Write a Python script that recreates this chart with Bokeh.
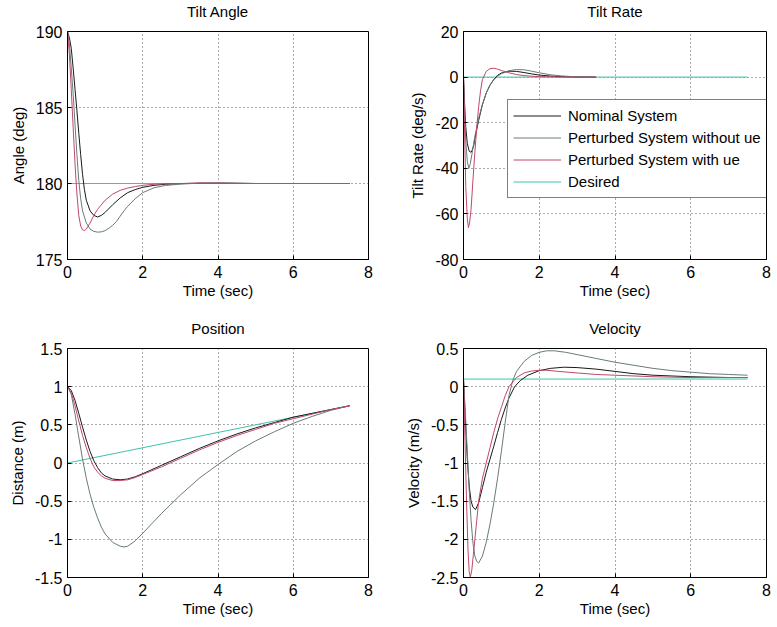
from bokeh.plotting import figure
from bokeh.layouts import gridplot
from bokeh.models import FixedTicker, Legend, LegendItem, Range1d, Title
from bokeh.embed import file_html
from bokeh.resources import INLINE

# ---------------- data ----------------
# Tilt angle (deg)
ang_nom_t = [0, 0.05, 0.1, 0.15, 0.2, 0.25, 0.3, 0.35, 0.4, 0.45, 0.5, 0.6, 0.7, 0.8, 0.9, 1.0, 1.2, 1.4, 1.6, 1.8, 2.0, 2.3, 2.6, 3.0, 3.5, 4.0, 5.0, 6.0, 7.5]
ang_nom_y = [190, 189.6, 188.9, 187.6, 186.2, 184.8, 183.3, 181.9, 180.6, 179.6, 178.9, 178.2, 177.9, 177.8, 177.9, 178.1, 178.6, 179.05, 179.4, 179.6, 179.75, 179.88, 179.95, 179.99, 180.02, 180.03, 180.0, 180.0, 180.0]
ang_wo_t = [0, 0.05, 0.1, 0.15, 0.2, 0.25, 0.3, 0.35, 0.4, 0.5, 0.6, 0.7, 0.8, 0.9, 1.0, 1.1, 1.2, 1.3, 1.4, 1.5, 1.6, 1.8, 2.0, 2.3, 2.6, 3.0, 3.5, 4.0, 5.0, 6.0, 7.5]
ang_wo_y = [190, 189.2, 187.6, 185.9, 183.9, 181.9, 180.2, 179.0, 178.2, 177.4, 177.0, 176.85, 176.8, 176.82, 176.9, 177.05, 177.25, 177.5, 177.85, 178.2, 178.5, 179.0, 179.4, 179.72, 179.87, 179.96, 180.02, 180.03, 180.0, 180.0, 180.0]
ang_wi_t = [0, 0.05, 0.1, 0.15, 0.2, 0.25, 0.3, 0.35, 0.4, 0.45, 0.5, 0.6, 0.7, 0.8, 1.0, 1.2, 1.4, 1.6, 1.8, 2.0, 2.3, 2.6, 3.0, 3.5, 4.0, 5.0, 6.0, 7.5]
ang_wi_y = [190, 188.5, 186.2, 183.7, 181.3, 179.3, 177.9, 177.2, 176.95, 176.9, 177.0, 177.4, 177.9, 178.3, 178.9, 179.3, 179.55, 179.7, 179.8, 179.88, 179.95, 179.98, 180.0, 180.03, 180.02, 180.0, 180.0, 180.0]
ang_des_t = [0, 7.5]
ang_des_y = [180, 180]

# Tilt rate (deg/s)
rate_nom_t = [0, 0.03, 0.06, 0.1, 0.15, 0.2, 0.23, 0.27, 0.3, 0.35, 0.4, 0.5, 0.6, 0.7, 0.8, 0.9, 1.0, 1.2, 1.4, 1.6, 1.8, 2.0, 2.3, 2.6, 3.0, 3.5]
rate_nom_y = [0, -12, -22, -29, -32.5, -33, -32, -30, -27, -23, -19, -12, -7, -3.5, -1, 0.8, 1.8, 2.6, 2.5, 2.0, 1.4, 0.9, 0.45, 0.2, 0.05, 0]
rate_wo_t = [0, 0.03, 0.06, 0.1, 0.14, 0.18, 0.22, 0.27, 0.3, 0.35, 0.4, 0.5, 0.6, 0.7, 0.8, 0.9, 1.0, 1.2, 1.4, 1.6, 1.8, 2.0, 2.3, 2.6, 3.0, 3.5]
rate_wo_y = [0, -15, -28, -37, -40, -38, -34, -29, -26, -22, -18, -12, -7, -3.5, -1.2, 0.4, 1.5, 2.8, 3.3, 3.2, 2.6, 1.9, 1.0, 0.5, 0.1, 0]
rate_wi_t = [0, 0.03, 0.06, 0.1, 0.13, 0.16, 0.2, 0.25, 0.3, 0.35, 0.4, 0.45, 0.5, 0.6, 0.7, 0.8, 0.9, 1.0, 1.2, 1.4, 1.6, 1.8, 2.0, 2.3, 2.6, 3.0, 3.5]
rate_wi_y = [0, -25, -48, -62, -66, -64, -58, -45, -33, -22, -13, -6, -1, 2.5, 3.7, 3.9, 3.5, 2.9, 1.9, 1.1, 0.65, 0.38, 0.22, 0.1, 0.05, 0.0, 0.0]
rate_des_t = [0, 7.5]
rate_des_y = [0, 0]

# Position (m)
pos_nom_t = [0, 0.1, 0.2, 0.3, 0.4, 0.5, 0.6, 0.7, 0.8, 0.9, 1.0, 1.2, 1.4, 1.6, 1.8, 2.0, 2.5, 3.0, 3.5, 4.0, 4.5, 5.0, 5.5, 6.0, 6.5, 7.0, 7.5]
pos_nom_y = [1.0, 0.95, 0.82, 0.65, 0.47, 0.3, 0.15, 0.03, -0.06, -0.13, -0.17, -0.21, -0.22, -0.21, -0.18, -0.14, -0.03, 0.08, 0.19, 0.29, 0.38, 0.46, 0.53, 0.6, 0.65, 0.7, 0.75]
pos_wo_t = [0, 0.1, 0.2, 0.3, 0.4, 0.5, 0.6, 0.7, 0.8, 0.9, 1.0, 1.2, 1.4, 1.5, 1.6, 1.8, 2.0, 2.5, 3.0, 3.5, 4.0, 4.5, 5.0, 5.5, 6.0, 6.5, 7.0, 7.5]
pos_wo_y = [1.0, 0.9, 0.64, 0.34, 0.05, -0.2, -0.41, -0.58, -0.72, -0.84, -0.93, -1.04, -1.09, -1.1, -1.09, -1.02, -0.92, -0.66, -0.42, -0.2, -0.02, 0.15, 0.29, 0.41, 0.52, 0.61, 0.69, 0.75]
pos_wi_t = [0, 0.1, 0.2, 0.3, 0.4, 0.5, 0.6, 0.7, 0.8, 0.9, 1.0, 1.2, 1.4, 1.6, 1.8, 2.0, 2.5, 3.0, 3.5, 4.0, 4.5, 5.0, 5.5, 6.0, 6.5, 7.0, 7.5]
pos_wi_y = [1.0, 0.92, 0.75, 0.55, 0.36, 0.2, 0.06, -0.05, -0.12, -0.17, -0.2, -0.23, -0.23, -0.22, -0.19, -0.15, -0.05, 0.06, 0.17, 0.27, 0.36, 0.44, 0.52, 0.58, 0.64, 0.7, 0.75]
pos_des_t = [0, 7.5]
pos_des_y = [0, 0.75]

# Velocity (m/s)
vel_nom_t = [0, 0.05, 0.1, 0.15, 0.2, 0.25, 0.32, 0.4, 0.5, 0.6, 0.7, 0.8, 0.9, 1.0, 1.1, 1.2, 1.35, 1.5, 1.7, 2.0, 2.3, 2.65, 3.0, 3.5, 4.0, 4.5, 5.0, 6.0, 7.0, 7.5]
vel_nom_y = [0.1, -0.45, -0.95, -1.3, -1.5, -1.58, -1.61, -1.52, -1.32, -1.12, -0.95, -0.78, -0.6, -0.43, -0.28, -0.15, 0.0, 0.08, 0.15, 0.21, 0.24, 0.255, 0.25, 0.23, 0.2, 0.17, 0.15, 0.13, 0.12, 0.12]
vel_wo_t = [0, 0.05, 0.1, 0.15, 0.2, 0.25, 0.3, 0.35, 0.4, 0.5, 0.6, 0.7, 0.8, 0.9, 1.0, 1.1, 1.2, 1.3, 1.4, 1.6, 1.8, 2.0, 2.2, 2.4, 2.7, 3.0, 3.5, 4.0, 4.5, 5.0, 5.5, 6.0, 6.5, 7.0, 7.5]
vel_wo_y = [0.1, -0.35, -0.85, -1.35, -1.75, -2.05, -2.22, -2.29, -2.31, -2.22, -2.04, -1.8, -1.52, -1.2, -0.85, -0.47, -0.12, 0.08, 0.2, 0.33, 0.41, 0.45, 0.47, 0.47, 0.45, 0.42, 0.37, 0.32, 0.28, 0.24, 0.21, 0.19, 0.17, 0.16, 0.15]
vel_wi_t = [0, 0.04, 0.08, 0.12, 0.15, 0.18, 0.22, 0.26, 0.3, 0.35, 0.4, 0.5, 0.6, 0.7, 0.8, 0.9, 1.0, 1.1, 1.2, 1.4, 1.6, 1.8, 2.0, 2.2, 2.5, 3.0, 3.5, 4.0, 5.0, 6.0, 7.0, 7.5]
vel_wi_y = [0.1, -0.7, -1.5, -2.15, -2.42, -2.5, -2.4, -2.2, -2.0, -1.75, -1.5, -1.2, -1.0, -0.8, -0.6, -0.42, -0.27, -0.12, 0.0, 0.12, 0.18, 0.205, 0.215, 0.215, 0.2, 0.18, 0.16, 0.15, 0.13, 0.12, 0.12, 0.12]
vel_des_t = [0, 7.5]
vel_des_y = [0.1, 0.1]

# ticks
x_ticks = [0, 2, 4, 6, 8]
x_tick_labels = ["0", "2", "4", "6", "8"]
ang_ticks = [175, 180, 185, 190]
ang_tick_labels = ["175", "180", "185", "190"]
rate_ticks = [-80, -60, -40, -20, 0, 20]
rate_tick_labels = ["-80", "-60", "-40", "-20", "0", "20"]
pos_ticks = [-1.5, -1, -0.5, 0, 0.5, 1, 1.5]
pos_tick_labels = ["-1.5", "-1", "-0.5", "0", "0.5", "1", "1.5"]
vel_ticks = [-2.5, -2, -1.5, -1, -0.5, 0, 0.5]
vel_tick_labels = ["-2.5", "-2", "-1.5", "-1", "-0.5", "0", "0.5"]

series_names = ["Nominal System", "Perturbed System without ue", "Perturbed System with ue", "Desired"]
colors = ["#1a1a1a", "#6a7a7a", "#c04868", "#3cc4aa"]

FONT = "Liberation Sans"


def make_fig(title, ylabel, yr, yticks, ylabels, width, height, bl, br, bt, bb):
    p = figure(width=width, height=height, x_range=Range1d(0, 8), y_range=Range1d(*yr),
               output_backend="svg", toolbar_location=None,
               min_border_left=bl, min_border_right=br, min_border_top=bt, min_border_bottom=bb)
    # real title (outermost panel)
    p.title.text = title
    p.title.align = "center"
    p.title.text_font = FONT
    p.title.text_font_size = "15px"
    p.title.text_font_style = "normal"
    p.title.text_color = "black"
    p.title.standoff = 0
    # invisible spacer between the title and the frame
    p.add_layout(Title(text=" ", text_font_size="1px", standoff=9), "above")
    p.outline_line_color = "black"
    p.outline_line_width = 1
    p.background_fill_color = "white"
    p.border_fill_color = "white"
    xa = p.xaxis[0]
    ya = p.yaxis[0]
    xa.ticker = FixedTicker(ticks=x_ticks)
    xa.major_label_overrides = {t: s for t, s in zip(x_ticks, x_tick_labels)}
    ya.ticker = FixedTicker(ticks=yticks)
    ya.major_label_overrides = {t: s for t, s in zip(yticks, ylabels)}
    xa.axis_label = "Time (sec)"
    ya.axis_label = ylabel
    for ax in (xa, ya):
        ax.axis_label_text_font = FONT
        ax.axis_label_text_font_size = "15px"
        ax.axis_label_text_font_style = "normal"
        ax.axis_label_text_color = "black"
        ax.major_label_text_font = FONT
        ax.major_label_text_font_size = "16px"
        ax.major_label_text_color = "black"
        ax.major_tick_in = 4
        ax.major_tick_out = 0
        ax.minor_tick_in = 0
        ax.minor_tick_out = 0
        ax.axis_line_color = "black"
        ax.major_tick_line_color = "black"
    xa.major_label_standoff = 6
    xa.axis_label_standoff = 1
    ya.major_label_standoff = 5
    ya.axis_label_standoff = 6
    for g in (p.xgrid[0], p.ygrid[0]):
        g.grid_line_color = "#555555"
        g.grid_line_dash = "1 3"
        g.grid_line_width = 1
    p.xgrid[0].ticker = FixedTicker(ticks=x_ticks)
    p.ygrid[0].ticker = FixedTicker(ticks=yticks)
    return p


def add_lines(p, tlist, ylist):
    # desired drawn first, then the three responses
    order = [3, 0, 1, 2]
    rmap = {}
    for i in order:
        rmap[i] = p.line(tlist[i], ylist[i], line_color=colors[i], line_width=1)
    return [rmap[i] for i in range(4)]


# widths/heights chosen so frames land where the reference axes are
W_L, W_R = 396, 381
H_T, H_B = 316, 311

p1 = make_fig("Tilt Angle", "Angle (deg)", (175, 190), ang_ticks, ang_tick_labels, W_L, H_T, 67, 28, 31, 57)
add_lines(p1, [ang_nom_t, ang_wo_t, ang_wi_t, ang_des_t], [ang_nom_y, ang_wo_y, ang_wi_y, ang_des_y])

p2 = make_fig("Tilt Rate", "Tilt Rate (deg/s)", (-80, 20), rate_ticks, rate_tick_labels, W_R, H_T, 67, 11, 31, 57)
rr = add_lines(p2, [rate_nom_t, rate_wo_t, rate_wi_t, rate_des_t], [rate_nom_y, rate_wo_y, rate_wi_y, rate_des_y])
legend = Legend(items=[LegendItem(label=series_names[i], renderers=[rr[i]]) for i in range(4)],
                location=(44, 61))
legend.label_text_font = FONT
legend.label_text_font_size = "15px"
legend.label_text_color = "black"
legend.glyph_width = 48
legend.glyph_height = 21
legend.label_height = 21
legend.spacing = 1
legend.padding = 5
legend.margin = 0
legend.border_line_color = "black"
legend.border_line_width = 1
legend.background_fill_alpha = 1
legend.label_standoff = 7
p2.add_layout(legend, "center")

p3 = make_fig("Position", "Distance (m)", (-1.5, 1.5), pos_ticks, pos_tick_labels, W_L, H_B, 67, 28, 32, 50)
add_lines(p3, [pos_nom_t, pos_wo_t, pos_wi_t, pos_des_t], [pos_nom_y, pos_wo_y, pos_wi_y, pos_des_y])

p4 = make_fig("Velocity", "Velocity (m/s)", (-2.5, 0.5), vel_ticks, vel_tick_labels, W_R, H_B, 67, 11, 32, 50)
add_lines(p4, [vel_nom_t, vel_wo_t, vel_wi_t, vel_des_t], [vel_nom_y, vel_wo_y, vel_wi_y, vel_des_y])

grid = gridplot([[p1, p2], [p3, p4]], toolbar_location=None)

open("out.html", "w").write(file_html(grid, INLINE))
